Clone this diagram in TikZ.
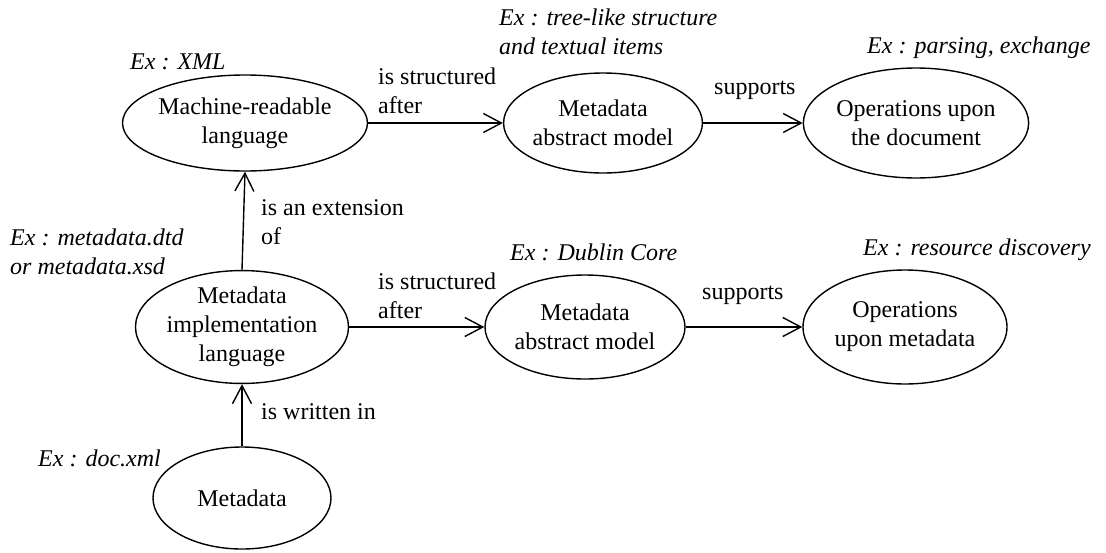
\documentclass[tikz,border=0pt]{standalone}
\usepackage{fontspec}
\setmainfont{Liberation Serif}
\usetikzlibrary{shapes.geometric,arrows.meta}
\begin{document}
\begin{tikzpicture}[x=1pt,y=-1pt,
  ell/.style={draw, ellipse, line width=1.4pt, inner sep=0pt, align=center, font=\fontsize{24}{29}\selectfont},
  lbl/.style={inner sep=0pt, align=left, anchor=west, font=\fontsize{24}{29}\selectfont},
  ex/.style={inner sep=0pt, align=left, anchor=west, font=\fontsize{24}{29}\selectfont\itshape},
  arr/.style={line width=1.4pt, -{Straight Barb[length=18pt,width=19pt,line width=1.4pt]}}]
\useasboundingbox (0,0) rectangle (1106,552);
% ellipses
\node[ell, minimum width=230pt, minimum height=96pt] (mrl) at (245,123) {Machine-readable\\language};
\node[ell, minimum width=194pt, minimum height=100pt] (mam1) at (603,123) {Metadata\\abstract model};
\node[ell, minimum width=216pt, minimum height=110pt] (op1) at (916,123) {Operations upon\\the document};
\node[ell, minimum width=210pt, minimum height=104pt] (impl) at (242,327) {Metadata\\implementation\\language};
\node[ell, minimum width=200pt, minimum height=104pt] (mam2) at (585,327) {Metadata\\abstract model};
\node[ell, minimum width=204pt, minimum height=114pt] (op2) at (905,327) {Operations\\upon metadata};
\node[ell, minimum width=178pt, minimum height=102pt] (md) at (242,498) {Metadata};
% connectors
\draw[arr] (mrl.east) -- (mam1.west);
\draw[arr] (mam1.east) -- (op1.west);
\draw[arr] (impl.north) -- (mrl.south);
\draw[arr] (impl.east) -- (mam2.west);
\draw[arr] (mam2.east) -- (op2.west);
\draw[arr] (md.north) -- (impl.south);
% labels
\node[ex] (exxml) at (130,62) {Ex : XML};
\node[lbl] (lsa1) at (378,91) {is structured\\after};
\node[ex] (extree) at (499,32) {Ex : tree-like structure\\and textual items};
\node[lbl] (lsup1) at (714,90) {supports};
\node[ex] (expars) at (867,48) {Ex : parsing, exchange};
\node[lbl] (lext) at (261,222) {is an extension\\of};
\node[ex] (exdtd) at (10,252) {Ex : metadata.dtd\\or metadata.xsd};
\node[lbl] (lsa2) at (378,296) {is structured\\after};
\node[ex] (exdc) at (510,252) {Ex : Dublin Core};
\node[lbl] (lsup2) at (702,295) {supports};
\node[ex] (exres) at (863,250) {Ex : resource discovery};
\node[lbl] (lwri) at (261,412) {is written in};
\node[ex] (exdoc) at (38,458) {Ex : doc.xml};
\end{tikzpicture}
\end{document}
